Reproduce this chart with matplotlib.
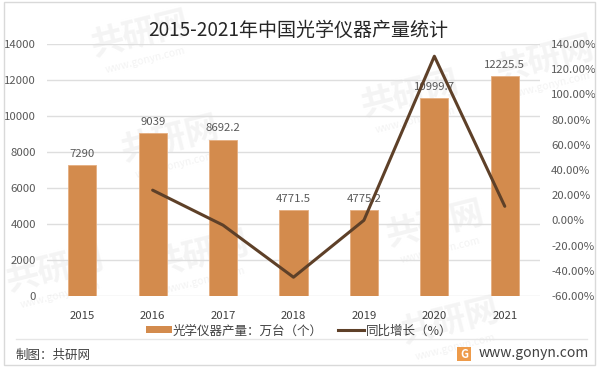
import matplotlib
matplotlib.use("Agg")
from matplotlib import pyplot as plt
from matplotlib.patches import Rectangle
from matplotlib.lines import Line2D

plt.rcParams['font.family'] = ['Noto Sans CJK SC', 'DejaVu Sans']

years = ['2015', '2016', '2017', '2018', '2019', '2020', '2021']
output = [7290, 9039, 8692.2, 4771.5, 4775.2, 10999.7, 12225.5]
output_labels = ['7290', '9039', '8692.2', '4771.5', '4775.2', '10999.7', '12225.5']
growth_years = [1, 2, 3, 4, 5, 6]
growth = [24.0, -3.8, -45.1, 0.1, 130.3, 11.2]

left_ticks = [0, 2000, 4000, 6000, 8000, 10000, 12000, 14000]
right_ticks = [-60, -40, -20, 0, 20, 40, 60, 80, 100, 120, 140]

bar_color = '#D38B4D'
line_color = '#5E4028'
text_color = '#595959'
W, H = 600, 369

fig = plt.figure(figsize=(6, 3.69), dpi=100)


def fx(px):
    return px / W


def fy(py):
    return 1 - py / H


# watermarks, behind everything
marks = [(140, 35), (170, 140), (200, 255), (410, 95), (435, 225), (450, 322), (545, 60), (55, 270)]
for mx, my in marks:
    fig.text(fx(mx), fy(my), '共研网', fontsize=24, fontweight='bold', color='#F4F4F4',
             rotation=14, ha='center', va='center', zorder=-2)
    fig.text(fx(mx + 5), fy(my + 25), 'www.gonyn.com', fontsize=7.5, color='#F3F3F3',
             rotation=14, ha='center', va='center', zorder=-2)

ax1 = fig.add_axes([fx(47), fy(296), fx(540 - 47), (296 - 44) / H])
ax1.patch.set_alpha(0)
ax2 = ax1.twinx()
ax2.patch.set_alpha(0)

x = list(range(len(years)))
ax1.bar(x, output, width=0.4, color=bar_color, edgecolor='#E5AE80', linewidth=0.6, zorder=3)
for xi, v, lab in zip(x, output, output_labels):
    ax1.annotate(lab, (xi, v), xytext=(0, 4.5), textcoords='offset points', ha='center', va='bottom',
                 fontsize=8.2, color=text_color, zorder=5)

ax2.plot(growth_years, growth, color=line_color, linewidth=2.2, solid_capstyle='round', zorder=6)

ax1.set_xlim(-0.5, 6.5)
ax1.set_ylim(0, 14000)
ax2.set_ylim(-60, 140)
ax1.set_xticks(x)
ax1.set_xticklabels(years, fontsize=8.2, color='#404040')
ax1.set_yticks(left_ticks)
ax1.set_yticklabels([str(t) for t in left_ticks], fontsize=8.2, color=text_color)
ax2.set_yticks(right_ticks)
ax2.set_yticklabels([f'{t:.2f}%' for t in right_ticks], fontsize=8.2, color=text_color)
ax1.tick_params(axis='both', length=0)
ax1.tick_params(axis='x', pad=11)
ax1.tick_params(axis='y', pad=8)
ax2.tick_params(axis='y', length=0, pad=8)
ax1.grid(axis='y', color='#DEDEDE', linewidth=1, zorder=1)
ax1.set_axisbelow(True)
for ax in (ax1, ax2):
    for s in ax.spines.values():
        s.set_visible(False)

fig.text(fx(298), fy(30), '2015-2021年中国光学仪器产量统计', fontsize=13.7, color='#262626',
         ha='center', va='center')

# legend drawn by hand to sit at the reference position
fig.add_artist(Rectangle((fx(146), fy(333)), 26 / W, 7 / H, transform=fig.transFigure,
                         facecolor=bar_color, edgecolor='none'))
fig.text(fx(173), fy(331), '光学仪器产量：万台（个）', fontsize=9, color='#404040', va='center')
fig.add_artist(Line2D([fx(338), fx(364)], [fy(330), fy(330)], color=line_color, linewidth=2.2))
fig.text(fx(366), fy(331), '同比增长（%）', fontsize=9, color='#404040', va='center')

# frame and footer
fig.add_artist(Rectangle((fx(4), fy(365)), 591 / W, 363 / H, transform=fig.transFigure,
                         facecolor='none', edgecolor='#D9D9D9', linewidth=1))
fig.add_artist(Line2D([fx(16), fx(587)], [fy(339), fy(339)], color='#E6E6E6', linewidth=1))
fig.text(fx(16), fy(355), '制图：共研网', fontsize=9, color='#404040', va='center')
fig.add_artist(Rectangle((fx(457), fy(361)), 14 / W, 14 / H, transform=fig.transFigure,
                         facecolor='#EE9B4A', edgecolor='none'))
fig.text(fx(464), fy(354), 'G', fontsize=8, fontweight='bold', color='white', ha='center', va='center')
fig.text(fx(479), fy(353), 'www.gonyn.com', fontsize=10, color='#404040', va='center')

fig.savefig('out.png', dpi=100)
